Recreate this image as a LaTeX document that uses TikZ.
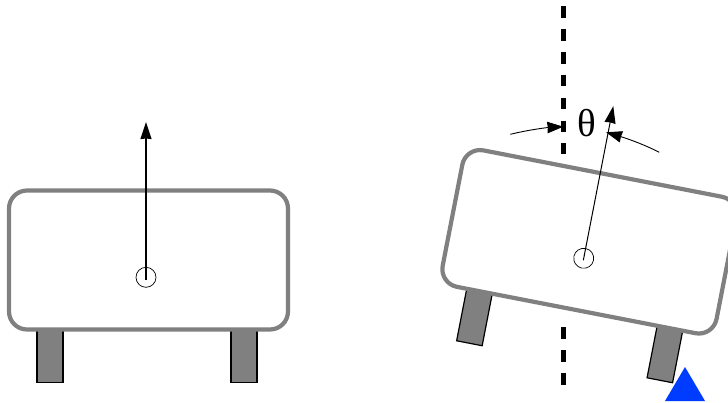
\documentclass[tikz,border=0pt]{standalone}
\usepackage{fontspec}
\setmainfont{Liberation Serif}
\usetikzlibrary{arrows.meta}
\definecolor{bodygray}{gray}{0.5}
\definecolor{bumpblue}{RGB}{0,60,255}

\begin{document}
\begin{tikzpicture}[
            x=1pt,y=-1pt,
            body/.style={draw=bodygray,fill=white,line width=4.2pt,rounded corners=18pt,minimum width=279pt,minimum height=139pt,inner sep=0pt},
            wheel/.style={draw=black,fill=bodygray,line width=1.2pt,minimum width=26pt,minimum height=53pt,inner sep=0pt},
            pivot/.style={draw,circle,line width=0.7pt,minimum size=20pt,inner sep=0pt},
            heading/.style={-{Stealth[length=17pt,width=11pt,inset=0.5pt]}},
            anglearrow/.style={-{Stealth[length=16pt,width=11.5pt,inset=0.5pt]},line width=0.9pt},
            vertical/.style={line width=5pt,dash pattern=on 11.7pt off 11.2pt}
        ]
            \clip (0,0) rectangle (728,402);

            % vertical reference line, broken where the tilted body stands
            \coordinate (axistop) at (563.6,6);
            \coordinate (axisupper) at (563.6,154);
            \coordinate (axislower) at (563.6,327);
            \coordinate (axisbot) at (563.6,385);
            \draw[vertical] (axistop) -- (axisupper);
            \draw[vertical] (axislower) -- (axisbot);

            % flat robot
            \node[wheel] (wheelA) at (50,356) {};
            \node[wheel] (wheelB) at (244,356) {};
            \node[body] (bodyL) at (148.5,260) {};
            \node[pivot] (pivotL) at (146,277.3) {};
            \coordinate (tailL) at (146,280);
            \coordinate (tipL) at (146,122);
            \draw[heading,line width=1.5pt] (tailL) -- (tipL);

            % tilted robot
            \begin{scope}[shift={(583.7,258.3)},rotate=-11,transform shape]
                \node[wheel] (wheelC) at (-96,78.7) {};
                \node[wheel] (wheelD) at (98,78.7) {};
                \node[body] (bodyR) at (2.5,-17.3) {};
                \node[pivot] (pivotR) at (0,0) {};
                \coordinate (tailR) at (0,2);
                \coordinate (tipR) at (0,-155);
            \end{scope}
            \draw[heading,line width=1pt] (tailR) -- (tipR);

            % angle between the line and the heading
            \coordinate (fromL) at (510.3,134.3);
            \coordinate (toL) at (563.3,126.7);
            \coordinate (fromR) at (659.3,152.3);
            \coordinate (toR) at (606,132.3);
            \draw[anglearrow] (fromL) .. controls (530,129.5) and (548,127.5) .. (toL);
            \draw[anglearrow] (fromR) .. controls (640,142.5) and (622,137) .. (toR);
            \node[inner sep=0pt,font=\fontsize{39}{39}\selectfont] (theta) at (586.7,123) {θ};

            % bump under the right wheel
            \node[inner sep=0pt,minimum size=0pt] (bump) at (685,367) {};
            \fill[bumpblue] (bump.center) -- (705,401) -- (665,401) -- cycle;
        \end{tikzpicture}
\end{document}
